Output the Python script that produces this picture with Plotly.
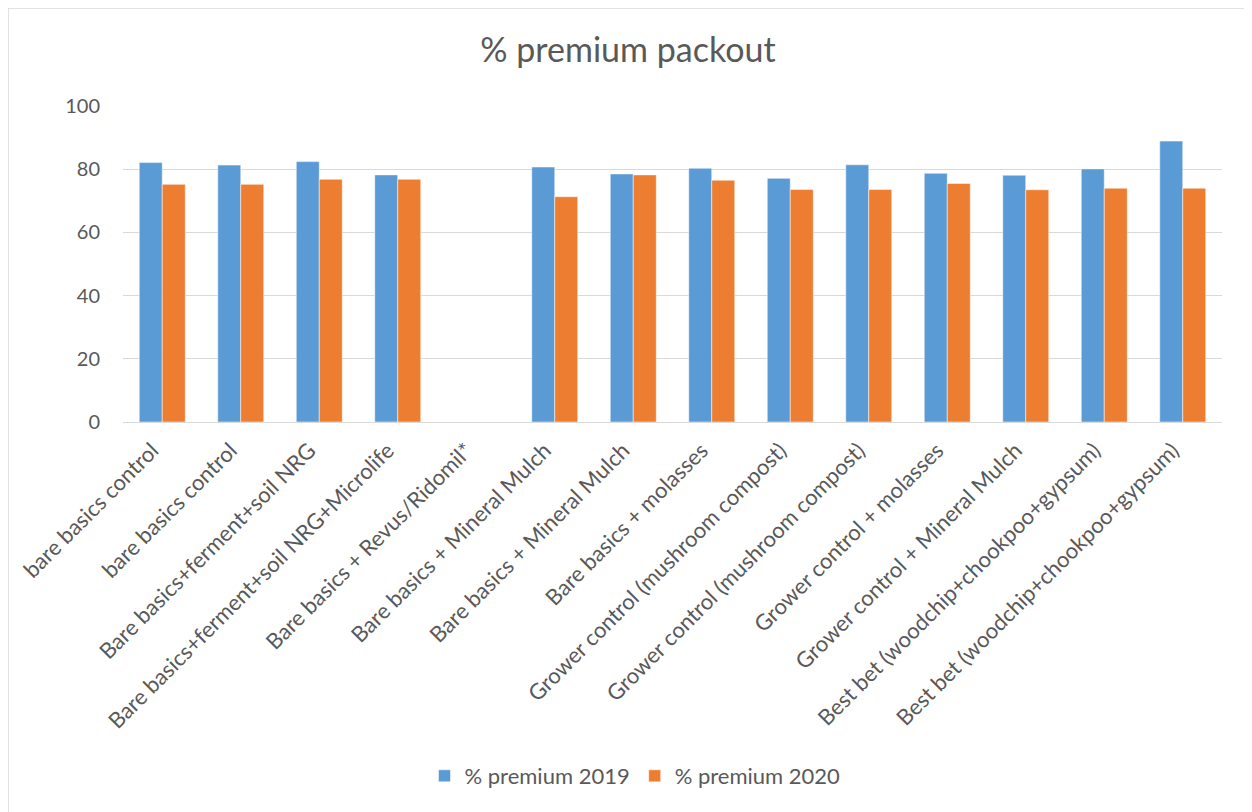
import plotly.graph_objects as go

categories = [
    "bare basics control",
    "bare basics control",
    "Bare basics+ferment+soil NRG",
    "Bare basics+ferment+soil NRG+Microlife",
    "Bare basics + Revus/Ridomil*",
    "Bare basics + Mineral Mulch",
    "Bare basics + Mineral Mulch",
    "Bare basics + molasses",
    "Grower control (mushroom compost)",
    "Grower control (mushroom compost)",
    "Grower control + molasses",
    "Grower control + Mineral Mulch",
    "Best bet (woodchip+chookpoo+gypsum)",
    "Best bet (woodchip+chookpoo+gypsum)",
]
premium_2019 = [82.1, 81.3, 82.4, 78.2, None, 80.7, 78.5, 80.3, 77.1, 81.4, 78.7, 78.1, 80.1, 88.9]
premium_2020 = [75.2, 75.2, 76.8, 76.8, None, 71.3, 78.2, 76.5, 73.6, 73.6, 75.5, 73.5, 74.0, 74.0]
y_ticks = [0, 20, 40, 60, 80, 100]

positions = list(range(len(categories)))
FONT = "Lato, Open Sans, sans-serif"
GRAY = "#595959"

W, H = 1244, 804            # page body adds an 8px margin
L, R, T, B = 115, 30, 98, 390
PW, PH = W - L - R, H - T - B

fig = go.Figure()
fig.add_trace(go.Bar(x=positions, y=premium_2019, name="% premium 2019",
                     marker=dict(color="#5b9bd5", line=dict(color="#ffffff", width=0.5))))
fig.add_trace(go.Bar(x=positions, y=premium_2020, name="% premium 2020",
                     marker=dict(color="#ed7d31", line=dict(color="#ffffff", width=0.5))))

fig.update_layout(
    width=W, height=H,
    paper_bgcolor="white", plot_bgcolor="white",
    margin=dict(l=L, r=R, t=T, b=B, autoexpand=False),
    barmode="group", bargap=0.414, bargroupgap=0,
    title=dict(text="% premium packout", x=620 / W, xanchor="center",
               y=1 - 42 / H, yref="container", yanchor="middle",
               font=dict(family=FONT, size=34, color=GRAY)),
    font=dict(family=FONT, color=GRAY),
    legend=dict(orientation="h", x=(627 - L) / PW, xanchor="center",
                y=(T + PH - 768) / PH, yanchor="middle",
                font=dict(family=FONT, size=22, color=GRAY), traceorder="normal",
                itemwidth=30),
    showlegend=True,
)
fig.update_xaxes(
    tickmode="array", tickvals=positions, ticktext=categories, tickangle=-45,
    range=[-0.5, len(categories) - 0.5],
    showgrid=False, showline=True, linecolor="#d9d9d9", linewidth=1,
    ticks="", tickfont=dict(family=FONT, size=22, color=GRAY), automargin=False,
    ticklabelshift=-10, ticklabelstandoff=6,
)
fig.update_yaxes(
    range=[0, 100], tickvals=y_ticks, showgrid=True, gridcolor="#d9d9d9", gridwidth=1,
    zeroline=False, showline=False, ticks="", ticklabelstandoff=22,
    tickfont=dict(family=FONT, size=20, color=GRAY), automargin=False,
)
# chart-area border
fig.add_shape(type="rect", xref="paper", yref="paper",
              x0=(0 - L) / PW, x1=(1243 - L) / PW,
              y0=(T + PH - 820) / PH, y1=(T + PH - 0) / PH,
              line=dict(color="#d9d9d9", width=1.5), fillcolor="rgba(0,0,0,0)", layer="below")

fig.write_html("out.html")
